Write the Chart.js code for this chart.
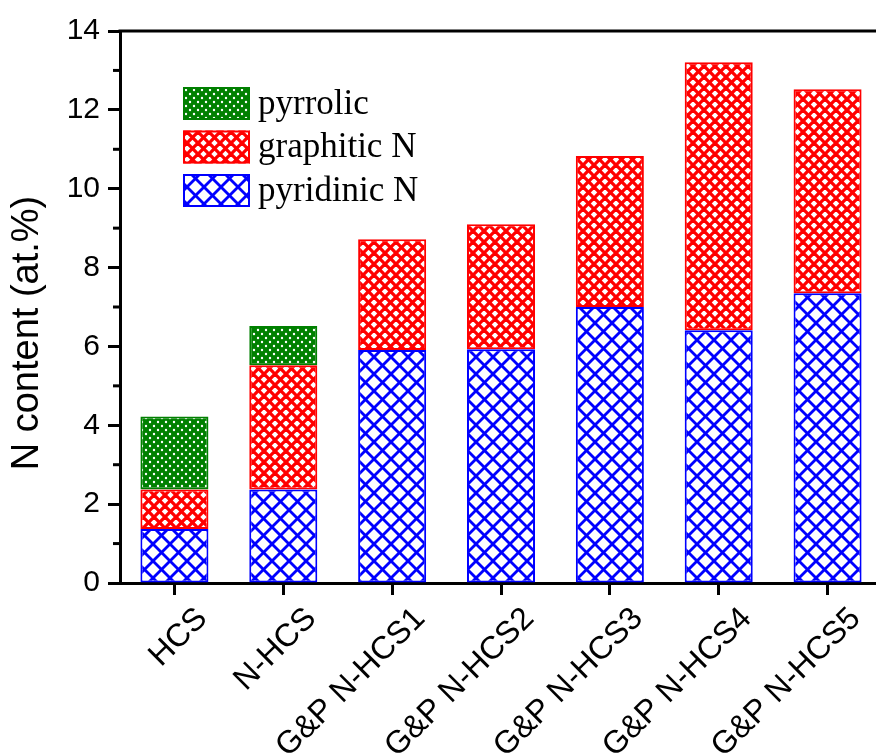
<!DOCTYPE html>
<html>
<head>
<meta charset="utf-8">
<script src="https://cdn.jsdelivr.net/npm/chart.js@4/dist/chart.umd.min.js"></script>
<style>
  html, body { margin: 0; padding: 0; background: #ffffff; overflow: hidden; }
  #wrap { position: absolute; left: 0; top: 0; width: 884px; height: 756px; }
</style>
</head>
<body>
<div id="wrap"><canvas id="chart"></canvas></div>
<script>
// Samples and their nitrogen species content (at.%)
const categories = ['HCS', 'N-HCS', 'G&P N-HCS1', 'G&P N-HCS2', 'G&P N-HCS3', 'G&P N-HCS4', 'G&P N-HCS5'];
const pyridinicN = [1.37, 2.37, 5.91, 5.93, 7.00, 6.41, 7.35];
const graphiticN = [1.00, 3.15, 2.81, 3.17, 3.83, 6.80, 5.17];
const pyrrolicN  = [1.85, 1.00, null, null, null, null, null];

const seriesNames = ['pyridinic N', 'graphitic N', 'pyrrolic'];
const yTickValues = [0, 2, 4, 6, 8, 10, 12, 14];
const yMinorTicks = [1, 3, 5, 7, 9, 11, 13];
const yTitle = 'N content (at.%)';

// Hatch fills
function makePattern(kind) {
  const c = document.createElement('canvas');
  let s;
  if (kind === 'blue') s = 17;
  else if (kind === 'red') s = 11;
  else s = 8;
  c.width = s; c.height = s;
  const g = c.getContext('2d');
  if (kind === 'green') {
    g.fillStyle = '#008000';
    g.fillRect(0, 0, s, s);
    g.fillStyle = '#ffffff';
    [[2, 2], [6, 6]].forEach(([x, y]) => {
      g.beginPath(); g.arc(x, y, 1.2, 0, Math.PI * 2); g.fill();
    });
  } else {
    g.fillStyle = '#ffffff';
    g.fillRect(0, 0, s, s);
    g.strokeStyle = kind === 'blue' ? '#0000ff' : '#ff0000';
    g.lineWidth = kind === 'blue' ? 2.8 : 3.3;
    for (let k = -1; k <= 1; k++) {
      g.beginPath(); g.moveTo(k * s, 0); g.lineTo(k * s + s, s); g.stroke();
      g.beginPath(); g.moveTo(k * s + s, 0); g.lineTo(k * s, s); g.stroke();
    }
  }
  return g.createPattern(c, 'repeat');
}

const ctx = document.getElementById('chart').getContext('2d');
const fills = {
  blue: makePattern('blue'),
  red: makePattern('red'),
  green: makePattern('green')
};

const datasets = [
  { label: seriesNames[0], data: pyridinicN, backgroundColor: fills.blue,  borderColor: '#0000ff' },
  { label: seriesNames[1], data: graphiticN, backgroundColor: fills.red,   borderColor: '#ff0000' },
  { label: seriesNames[2], data: pyrrolicN,  backgroundColor: fills.green, borderColor: '#008000' }
].map(d => Object.assign(d, {
  borderWidth: 2,
  borderSkipped: false,
  categoryPercentage: 1.0,
  barPercentage: 0.625
}));

// Frame line on top, minor y ticks, legend box and rotated y title
const decorations = {
  id: 'decorations',
  afterDraw(chart) {
    const { ctx, chartArea } = chart;
    const y = chart.scales.y;
    ctx.save();
    ctx.strokeStyle = '#000000';
    ctx.lineWidth = 3;
    ctx.beginPath();
    ctx.moveTo(chartArea.left - 1.5, chartArea.top);
    ctx.lineTo(chart.width, chartArea.top);
    ctx.stroke();

    ctx.lineWidth = 3;
    yMinorTicks.forEach(v => {
      const py = y.getPixelForValue(v);
      ctx.beginPath();
      ctx.moveTo(chartArea.left - 7, py);
      ctx.lineTo(chartArea.left, py);
      ctx.stroke();
    });

    // legend, top entry = last stacked series
    const bx = chartArea.left + 63, by0 = chartArea.top + 56, bw = 67, bh = 33, gap = 43.5;
    const order = [2, 1, 0];
    ctx.font = '35px "Liberation Serif", "Times New Roman", serif';
    ctx.textBaseline = 'middle';
    ctx.textAlign = 'left';
    order.forEach((di, i) => {
      const ds = chart.data.datasets[di];
      const by = by0 + i * gap;
      ctx.fillStyle = ds.backgroundColor;
      ctx.fillRect(bx, by, bw, bh);
      ctx.strokeStyle = ds.borderColor;
      ctx.lineWidth = 2;
      ctx.strokeRect(bx + 1, by + 1, bw - 2, bh - 2);
      ctx.fillStyle = '#000000';
      ctx.fillText(ds.label, bx + bw + 8, by + bh / 2 + 1);
    });

    // y axis title
    ctx.translate(28, chartArea.bottom - 250);
    ctx.rotate(-Math.PI / 2);
    ctx.font = '38px "Liberation Sans", Arial, sans-serif';
    ctx.textAlign = 'center';
    ctx.textBaseline = 'middle';
    ctx.fillStyle = '#000000';
    ctx.fillText(yTitle, 0, 0);
    ctx.restore();
  }
};

new Chart(ctx, {
  type: 'bar',
  data: { labels: categories, datasets },
  options: {
    responsive: true,
    maintainAspectRatio: false,
    devicePixelRatio: 1,
    animation: false,
    layout: { padding: { top: 31, right: 2, left: 0, bottom: 0 } },
    plugins: {
      legend: { display: false },
      tooltip: { enabled: false }
    },
    scales: {
      x: {
        stacked: true,
        offset: true,
        grid: {
          offset: false,
          drawOnChartArea: false,
          drawTicks: true,
          tickLength: 12,
          tickWidth: 3,
          tickColor: '#000000'
        },
        border: { display: true, color: '#000000', width: 3 },
        ticks: {
          autoSkip: false,
          minRotation: 45,
          maxRotation: 45,
          labelOffset: 28,
          padding: 5,
          color: '#000000',
          font: { family: '"Liberation Sans", Arial, sans-serif', size: 32 }
        },
        afterFit(scale) { scale.height = 173; }
      },
      y: {
        stacked: true,
        min: yTickValues[0],
        max: yTickValues[yTickValues.length - 1],
        afterBuildTicks(scale) { scale.ticks = yTickValues.map(v => ({ value: v })); },
        grid: {
          drawOnChartArea: false,
          drawTicks: true,
          tickLength: 12,
          tickWidth: 3,
          tickColor: '#000000'
        },
        border: { display: true, color: '#000000', width: 3 },
        ticks: {
          padding: 8,
          color: '#000000',
          font: { family: '"Liberation Sans", Arial, sans-serif', size: 30 }
        },
        afterFit(scale) { scale.width = 120; }
      }
    }
  },
  plugins: [decorations]
});
</script>
</body>
</html>
